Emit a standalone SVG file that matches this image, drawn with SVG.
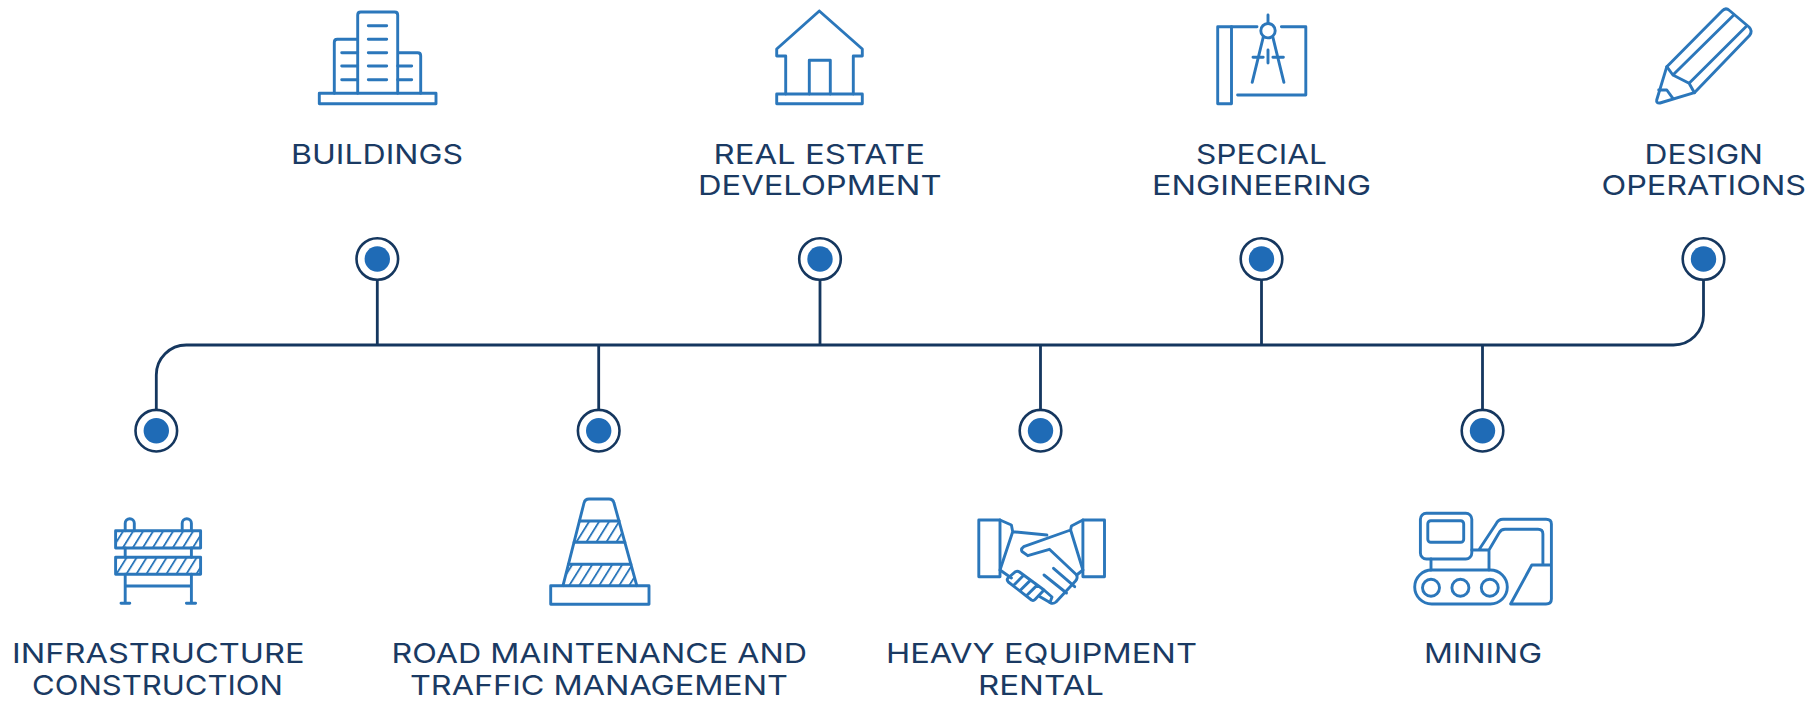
<svg xmlns="http://www.w3.org/2000/svg" width="1816" height="701" viewBox="0 0 1816 701">
<style>
.i{fill:none;stroke:#2b77bb;stroke-width:2.9;stroke-linejoin:round;stroke-linecap:round}
.t{font-family:"Inter","Liberation Sans",sans-serif;font-size:27.5px;font-weight:400;fill:#1a3a63}
.c{fill:none;stroke:#15375f;stroke-width:2.8}
.r{fill:#fff;stroke:#15375f;stroke-width:2.6}
.d{fill:#1f6bb6}
.h{fill:url(#hatch)}
</style>
<defs>
<pattern id="hatch" patternUnits="userSpaceOnUse" width="10" height="18" patternTransform="skewX(-32)"><rect x="4" y="0" width="2.2" height="18" fill="#2b77bb"/></pattern>
<symbol id="pin" overflow="visible"><circle class="r" r="20.8"/><circle class="d" r="12.7"/></symbol>
</defs>
<rect width="1816" height="701" fill="#fff"/>
<g id="connectors">
<path class="c" d="M156.3 409V375A30 30 0 0 1 186.3 345H1673.5A30 30 0 0 0 1703.5 315V280"/>
<path class="c" d="M377.3 280V345M820 280V345M1261.5 280V345M598.7 345V409M1040.5 345V409M1482.5 345V409"/>
</g>
<g id="node-buildings">
<g class="i"><rect x="319.3" y="93.3" width="116.7" height="10.4"/><path d="M357.7 93.3V15Q357.7 12 360.7 12H394.7Q397.7 12 397.7 15V93.3M357.7 39.3H337.3Q334.3 39.3 334.3 42.3V93.3M397.7 52.7H417.7Q420.7 52.7 420.7 55.7V93.3"/><path d="M368.3 25.7H386.7M368.3 39.3H386.7M368.3 52.7H386.7M368.3 66H386.7M368.3 79.7H386.7M341.7 52.7H357.7M341.7 66H357.7M341.7 79.7H357.7M397.7 66H411.7M397.7 79.7H411.7"/></g>
<text class="t" x="291" y="163.5" textLength="172" lengthAdjust="spacingAndGlyphs">BUILDINGS</text>
<use href="#pin" x="377.3" y="259"/>
</g>
<g id="node-real-estate">
<g class="i"><path d="M819.3 11L776.7 49V56H785.7V94M819.3 11L862.3 49V56H853.3V94"/><rect x="776.7" y="94" width="85.6" height="9.7"/><path d="M809.3 94V60.3H830.3V94"/></g>
<text class="t" x="713.5" y="163.5" textLength="211.5" lengthAdjust="spacingAndGlyphs">REAL ESTATE</text>
<text class="t" x="698" y="195" textLength="243.5" lengthAdjust="spacingAndGlyphs">DEVELOPMENT</text>
<use href="#pin" x="820" y="259"/>
</g>
<g id="node-special-engineering">
<g class="i"><rect x="1217.7" y="26.7" width="13.8" height="77"/><path d="M1231.5 26.7H1257M1281.4 26.7H1305.8V95H1237.6"/><circle cx="1268" cy="30.7" r="7.2"/><path d="M1268 15V23.5M1263.2 37.3L1252.2 82.3M1272.9 37.3L1283.9 82.3M1253 57.3H1263.2M1272.9 57.3H1283.4M1268 50V63"/></g>
<text class="t" x="1196" y="163.5" textLength="131" lengthAdjust="spacingAndGlyphs">SPECIAL</text>
<text class="t" x="1152" y="195" textLength="219" lengthAdjust="spacingAndGlyphs">ENGINEERING</text>
<use href="#pin" x="1261.5" y="259"/>
</g>
<g id="node-design-operations">
<g class="i"><path d="M1666.8 66.7L1722 11Q1725.6 7 1729.5 10.5L1749 27Q1753 31 1749.5 35.5L1694.4 92.7L1660 103Q1656 103.5 1656.7 100Z"/><path d="M1666.8 66.7L1672.9 75L1689.1 83.3L1694.4 92.7M1672.9 75L1733.8 15M1689.1 83.3L1745.9 26.7M1658.7 90H1666.8L1672.9 98.3"/></g>
<text class="t" x="1644.5" y="163.5" textLength="118.5" lengthAdjust="spacingAndGlyphs">DESIGN</text>
<text class="t" x="1601.5" y="195" textLength="204.5" lengthAdjust="spacingAndGlyphs">OPERATIONS</text>
<use href="#pin" x="1703.5" y="259"/>
</g>
<g id="node-infrastructure">
<path class="h" d="M115.6 530.7H200.6V548H115.6ZM115.6 557.3H200.6V574.3H115.6Z"/>
<g class="i"><rect x="115.6" y="530.7" width="85" height="17.3"/><rect x="115.6" y="557.3" width="85" height="17"/><path d="M125.2 530.7V523.3A4.5 4.5 0 0 1 134.3 523.3V530.7M182.2 530.7V523.3A4.5 4.5 0 0 1 191.4 523.3V530.7M125.2 548V557.3M191.4 548V557.3M125.2 574.3V603.3M191.4 574.3V603.3M125.2 586H191.4M121 603.3H129.8M186.4 603.3H195.6"/></g>
<text class="t" x="12" y="663" textLength="292.5" lengthAdjust="spacingAndGlyphs">INFRASTRUCTURE</text>
<text class="t" x="32" y="695" textLength="251" lengthAdjust="spacingAndGlyphs">CONSTRUCTION</text>
<use href="#pin" x="156.3" y="430.7"/>
</g>
<g id="node-road">
<path class="h" d="M579.6 521H619.1L624.9 542.3H574.1ZM568.5 564.3H630.9L636.8 585.7H563Z"/>
<g class="i"><path d="M563 585.7L584 503Q585 499 589 499H609Q613 499 614 503L636.8 585.7"/><path d="M579.6 521H619.1M574.1 542.3H624.9M568.5 564.3H630.9"/><rect x="550.7" y="585.7" width="98.3" height="18.6"/></g>
<text class="t" x="391.5" y="663" textLength="415.5" lengthAdjust="spacingAndGlyphs">ROAD MAINTENANCE AND</text>
<text class="t" x="410" y="695" textLength="378" lengthAdjust="spacingAndGlyphs">TRAFFIC MANAGEMENT</text>
<use href="#pin" x="598.7" y="430.7"/>
</g>
<g id="node-heavy-equipment">
<g class="i"><rect x="978.8" y="520" width="21.2" height="56.7"/><rect x="1082.9" y="520" width="21.6" height="56.7"/><path d="M1000 520L1011.4 525L1012.7 531.7L1000 570M1082.9 520L1071.4 526L1070.6 530L1082.9 570M1012.7 531.7L1046.9 535M1070.6 530L1023.7 546.7Q1020.5 549 1022 551.5L1027.8 555.7L1049.4 549.3L1076.7 575L1082.9 570M1000 570L1011.4 578"/><path d="M1076.7 575Q1078 578 1075.5 581L1056 602Q1053 604.5 1050 602.5L1040 596.7M1044 575L1066.5 593M1053.5 568.3L1074.7 586.7"/><path d="M1015.5 571.7L1008 578Q1006.3 580 1008.3 582L1031.5 600Q1033.5 601 1035 599.5L1044 590M1015.5 571.7Q1017.5 570.5 1019.5 572L1044 590M1022.6 576.3L1014 585M1029.8 580.9L1020.6 590M1036.9 585.4L1027.2 595M1044 590L1052 597L1050 602.5"/></g>
<text class="t" x="886" y="663" textLength="311" lengthAdjust="spacingAndGlyphs">HEAVY EQUIPMENT</text>
<text class="t" x="978" y="695" textLength="126" lengthAdjust="spacingAndGlyphs">RENTAL</text>
<use href="#pin" x="1040.5" y="430.7"/>
</g>
<g id="node-mining">
<g class="i"><rect x="1420.4" y="513.3" width="51.4" height="45.7" rx="6"/><rect x="1427.8" y="520.7" width="35.9" height="21.6" rx="3"/><rect x="1414.7" y="570" width="92.6" height="34" rx="17"/><circle cx="1431" cy="587.7" r="8.5"/><circle cx="1460.4" cy="587.7" r="8.5"/><circle cx="1489.8" cy="587.7" r="8.5"/><path d="M1431 559V570M1489 570V550H1471.8M1478.8 550L1496 524Q1498 519.3 1503 519.3H1546Q1551.4 519.3 1551.4 524V599Q1551.4 604 1546 604H1510.6L1531.8 565H1551.4M1489 550L1499 533Q1501 529.3 1505 529.3H1538Q1542.9 529.3 1542.9 534V565"/></g>
<text class="t" x="1424" y="663" textLength="118" lengthAdjust="spacingAndGlyphs">MINING</text>
<use href="#pin" x="1482.5" y="430.7"/>
</g>
</svg>
